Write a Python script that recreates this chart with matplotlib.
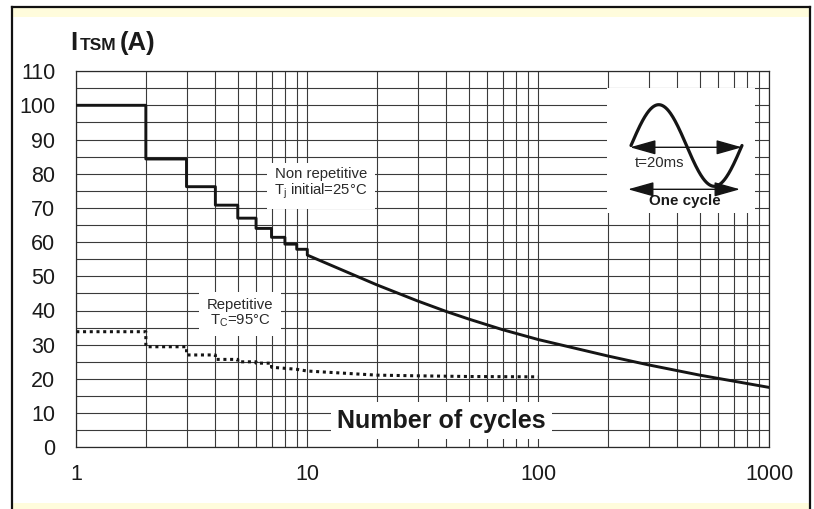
import numpy as np
import matplotlib
matplotlib.use("Agg")
import matplotlib.pyplot as plt
from matplotlib.patches import Rectangle
from matplotlib.lines import Line2D
from matplotlib.ticker import LogLocator, NullFormatter, FixedLocator

plt.rcParams['font.family'] = ['Liberation Sans', 'DejaVu Sans']
plt.rcParams['mathtext.default'] = 'regular'

# ---------------- data ----------------
# Non repetitive surge (Tj initial = 25 °C): stepped part then smooth curve
nonrep_step_cycles = [1, 2, 3, 4, 5, 6, 7, 8, 9, 10]
nonrep_step_values = [100, 84.3, 76.2, 70.8, 67.0, 64.0, 61.4, 59.4, 57.9]
nonrep_curve_cycles = [10, 20, 30, 40, 50, 70, 100, 200, 300, 500, 1000]
nonrep_curve_values = [56.2, 47.5, 42.8, 39.7, 37.5, 34.4, 31.5, 26.7, 24.1, 21.1, 17.5]

# Repetitive surge (Tc = 95 °C)
rep_step_cycles = [1, 2, 3, 4, 5, 6, 7]
rep_step_values = [33.8, 29.4, 27.0, 25.7, 25.0, 24.6]
rep_curve_cycles = [7, 8, 9, 10, 20, 30, 50, 100]
rep_curve_values = [23.4, 23.1, 22.8, 22.3, 21.1, 20.9, 20.7, 20.6]

x_ticks = [1, 10, 100, 1000]
x_tick_labels = ['1', '10', '100', '1000']
y_ticks = list(range(0, 111, 10))
y_minor_ticks = list(range(5, 110, 10))


def build_path(step_x, step_y, curve_x, curve_y):
    xs, ys = [], []
    for i, v in enumerate(step_y):
        xs += [step_x[i], step_x[i + 1]]
        ys += [v, v]
    xs += list(curve_x)
    ys += list(curve_y)
    return xs, ys


W, H = 814, 509
def fx(px):
    return px / W
def fy(py):
    return 1 - py / H

fig = plt.figure(figsize=(W / 100, H / 100), dpi=100)
fig.patch.set_facecolor('white')

yellow = '#FFFCDC'
fig.patches.append(Rectangle((fx(12), 0), fx(810) - fx(12), fy(7), transform=fig.transFigure,
                             facecolor=yellow, edgecolor='none', zorder=-10))
fig.patches.append(Rectangle((fx(12), fy(503)), fx(810) - fx(12), fy(17) - fy(503),
                             transform=fig.transFigure, facecolor='white', edgecolor='none', zorder=-9))
for xs_, ys_ in [([fx(12), fx(12)], [0, fy(7)]), ([fx(12), fx(810)], [fy(7), fy(7)]),
                 ([fx(810), fx(810)], [fy(7), 0])]:
    fig.add_artist(Line2D(xs_, ys_, transform=fig.transFigure, color='#111111', lw=1.6))

ax = fig.add_axes([fx(76.3), fy(447.3), fx(769.3) - fx(76.3), fy(71.1) - fy(447.3)])
ax.set_facecolor('white')
ax.set_xscale('log')
ax.set_xlim(1, 1000)
ax.set_ylim(0, 110)
ax.set_xticks(x_ticks)
ax.set_xticklabels(x_tick_labels)
ax.xaxis.set_minor_locator(LogLocator(base=10, subs=np.arange(2, 10)))
ax.xaxis.set_minor_formatter(NullFormatter())
ax.set_yticks(y_ticks)
ax.yaxis.set_minor_locator(FixedLocator(y_minor_ticks))
ax.tick_params(which='both', length=0)
ax.tick_params(axis='y', pad=15, labelsize=15.5, labelcolor='#1a1a1a')
ax.tick_params(axis='x', pad=12, labelsize=15.5, labelcolor='#1a1a1a')
ax.grid(which='both', color='#3a3a3a', lw=0.8)
ax.set_axisbelow(True)
for s in ax.spines.values():
    s.set_color('#2a2a2a')
    s.set_linewidth(0.9)

xs, ys = build_path(nonrep_step_cycles, nonrep_step_values, nonrep_curve_cycles, nonrep_curve_values)
ax.plot(xs, ys, color='#151515', lw=2.1, zorder=3, solid_joinstyle='round')
xs, ys = build_path(rep_step_cycles, rep_step_values, rep_curve_cycles, rep_curve_values)
ax.plot(xs, ys, color='#151515', lw=2.2, linestyle=(0, (1, 1.2)), dash_capstyle='butt', zorder=3)

box = dict(boxstyle='square,pad=0.5', facecolor='white', edgecolor='none')
ax.text(11.47, 76.9, 'Non repetitive\nT$_{j}$ initial=25°C', ha='center', va='center',
        fontsize=10.7, color='#2a2a2a', linespacing=1.05, bbox=box, zorder=4)
ax.text(5.11, 39.2, 'Repetitive\nT$_{C}$=95°C', ha='center', va='center',
        fontsize=10.7, color='#2a2a2a', linespacing=1.05, bbox=box, zorder=4)
ax.text(38.2, 7.8, 'Number of cycles', ha='center', va='center', fontsize=18, weight='bold',
        color='#1a1a1a', bbox=dict(boxstyle='square,pad=0.25', facecolor='white', edgecolor='none'),
        zorder=4)

# Y axis title I_TSM(A)
fig.text(fx(70.5), fy(50), 'I', fontsize=18.5, weight='bold', va='baseline', color='#1a1a1a')
fig.text(fx(79.5), fy(50), 'TSM', fontsize=12.5, weight='bold', va='baseline', color='#1a1a1a')
fig.text(fx(119.5), fy(50), '(A)', fontsize=18.5, weight='bold', va='baseline', color='#1a1a1a')

# inset pictogram: one sine cycle
axi = fig.add_axes([fx(607), fy(213), fx(755) - fx(607), fy(88) - fy(213)])
axi.set_xlim(607, 755)
axi.set_ylim(213, 88)
axi.set_facecolor('white')
axi.set_xticks([])
axi.set_yticks([])
for s in axi.spines.values():
    s.set_visible(False)
t = np.linspace(0, 1, 200)
axi.plot(631 + 111 * t, 145.5 - 40.8 * np.sin(2 * np.pi * t), color='#151515', lw=2.3,
         solid_capstyle='round')
arrow = dict(arrowstyle='<|-|>,head_length=1.6,head_width=0.45', mutation_scale=10, lw=1.0,
             color='#151515', shrinkA=0, shrinkB=0)
axi.annotate('', xy=(742, 147.3), xytext=(630, 147.3), arrowprops=arrow)
axi.annotate('', xy=(740, 189.3), xytext=(628, 189.3), arrowprops=arrow)
axi.text(660, 163.3, 't=20ms', ha='center', va='center', fontsize=10.7, color='#2a2a2a')
axi.text(685, 200.7, 'One cycle', ha='center', va='center', fontsize=10.9, weight='bold',
         color='#1a1a1a')

fig.savefig('out.png', dpi=100, facecolor='white')
